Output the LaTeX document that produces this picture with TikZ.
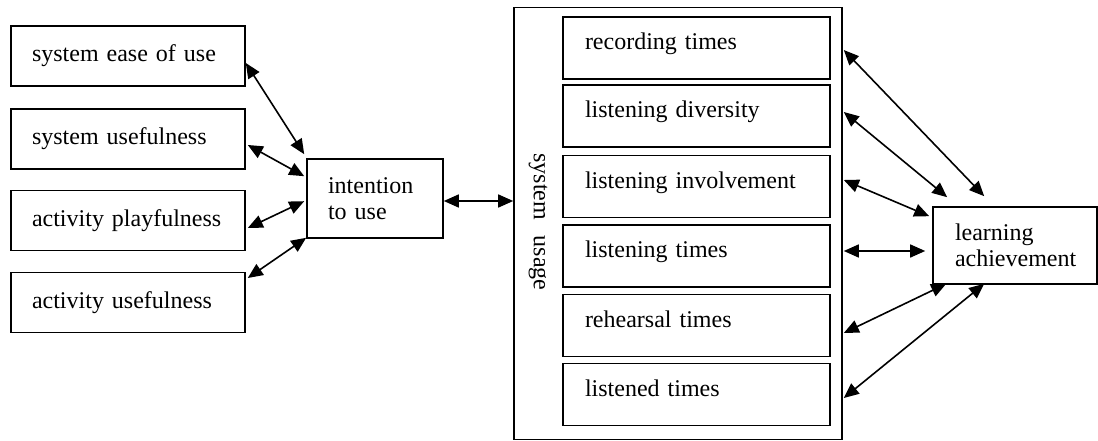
\documentclass[tikz,border=0pt]{standalone}
\usepackage{fontspec}
\setmainfont{Liberation Serif}[WordSpace=1.6]
\newfontfamily\sulfont{Liberation Serif}[WordSpace=2.6]
\usetikzlibrary{arrows.meta,calc}
\begin{document}
\begin{tikzpicture}[x=1pt,y=-1pt,
  txt/.style={font=\fontsize{24}{26.5}\selectfont},
  box/.style={draw, line width=1.6pt, txt, align=left, inner ysep=0pt},
  lbox/.style={box, minimum width=234pt, minimum height=60pt, inner xsep=21pt, text width=192pt},
  rbox/.style={box, minimum width=267pt, minimum height=62pt, inner xsep=22pt, text width=223pt, text height=15pt, text depth=12pt},
  arr/.style={line width=1.6pt, {Triangle[length=15pt,width=13pt]}-{Triangle[length=15pt,width=13pt]}}
]
\useasboundingbox (0,0) rectangle (1098,441);
% left boxes
\node[lbox] (b1) at (128,56) {system ease of use};
\node[lbox] (b2) at (128,139) {system usefulness};
\node[lbox] (b3) at (128,220.5) {activity playfulness};
\node[lbox] (b4) at (128,302.5) {activity usefulness};
% intention
\node[box, minimum width=136pt, minimum height=79pt, inner xsep=21pt, text width=94pt] (it) at (375,198.5) {intention\\to use};
% system usage
\node[draw, line width=1.6pt, minimum width=328pt, minimum height=432pt, inner sep=0pt] (su) at (678,223.5) {};
\node[rotate=-90, font=\sulfont\fontsize{24}{26}\selectfont] (sul) at (538,222) {system usage};
\node[rbox] (r1) at (696.5,48) {recording times};
\node[rbox] (r2) at (696.5,116) {listening diversity};
\node[rbox] (r3) at (696.5,186.5) {listening involvement};
\node[rbox] (r4) at (696.5,256) {listening times};
\node[rbox] (r5) at (696.5,325.5) {rehearsal times};
\node[rbox] (r6) at (696.5,394.5) {listened times};
% learning
\node[box, minimum width=164pt, minimum height=77pt, inner xsep=22pt, text width=120pt] (la) at (1015,245.5) {learning\\achievement};
% left arrows
\draw[arr] ($(b1.east)+(0,7)$) -- ($(it.north west)+(-2,-4)$);
\draw[arr] ($(b2.east)+(2,6)$) -- ($(it.north west)+(-2,18)$);
\draw[arr] ($(b3.east)+(2,7.5)$) -- ($(it.north west)+(-2,43)$);
\draw[arr] ($(b4.east)+(2,-24.5)$) -- ($(it.south west)+(0,-1)$);
% middle
\draw[arr] ($(it.east)+(0,2.5)$) -- ($(it.east -| su.west)+(0,2.5)$);
% right arrows
\draw[arr] ($(r1.east -| su.east)+(1,2)$) -- ($(la.north west)+(52,-10)$);
\draw[arr] ($(r2.east -| su.east)+(1,-4)$) -- ($(la.north west)+(15,-9)$);
\draw[arr] ($(r3.east -| su.east)+(1,-6.5)$) -- ($(la.north west)+(-3,10)$);
\draw[arr] ($(r4.east -| su.east)+(1,-5)$) -- ($(la.west)+(-7,5.5)$);
\draw[arr] ($(r5.east -| su.east)+(1,7.5)$) -- ($(la.south west)+(14,-1)$);
\draw[arr] ($(r6.east -| su.east)+(1,3.5)$) -- ($(la.south west)+(52,-1)$);
\end{tikzpicture}
\end{document}
